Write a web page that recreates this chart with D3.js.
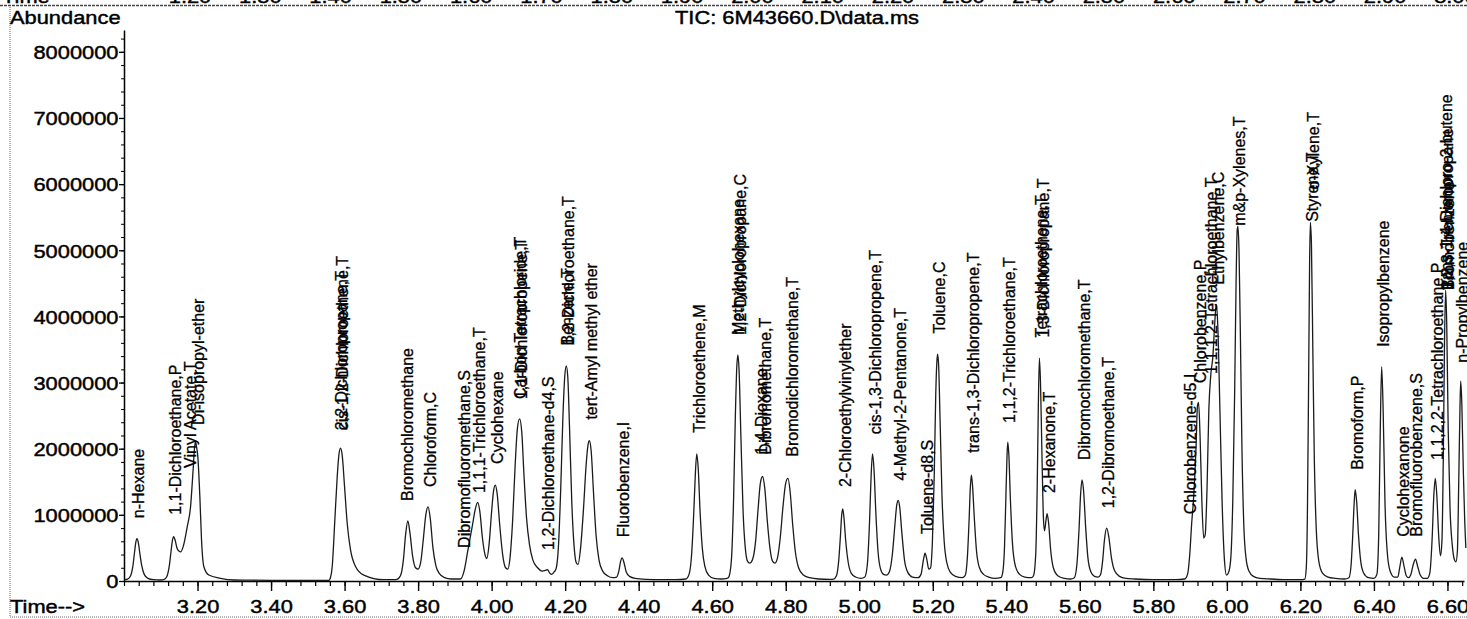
<!DOCTYPE html>
<html>
<head>
<meta charset="utf-8">
<script src="https://cdn.jsdelivr.net/npm/d3@7"></script>
<style>
  body { margin: 0; background: #fff; }
  text { font-family: "Liberation Sans", Arial, Helvetica, sans-serif; fill: #000; }
  .heavy { stroke: #000; stroke-width: 0.45px; }
  .label { stroke: #000; stroke-width: 0.3px; }
</style>
</head>
<body>
<svg id="chart" width="1467" height="619"></svg>
<script>
// ---- Axis ticks -------------------------------------------------------
const xTickValues = [3.2, 3.4, 3.6, 3.8, 4.0, 4.2, 4.4, 4.6, 4.8, 5.0, 5.2, 5.4, 5.6, 5.8, 6.0, 6.2, 6.4, 6.6];
const yTickValues = [0, 1000000, 2000000, 3000000, 4000000, 5000000, 6000000, 7000000, 8000000];
// tail of the previous page's time axis, printed at the very top
const headerTickLabels = ["1.20","1.30","1.40","1.50","1.60","1.70","1.80","1.90","2.00","2.10","2.20","2.30","2.40","2.50","2.60","2.70","2.80","2.90","3.00"];

// ---- Total ion chromatogram: [retention time (min), abundance] ---------
const trace = [
  [3.000,20000],[3.010,30000],[3.018,80000],[3.024,220000],[3.029,450000],[3.032,580000],[3.035,640000],
  [3.039,580000],[3.043,420000],[3.048,240000],[3.055,100000],[3.065,40000],[3.080,20000],[3.100,15000],
  [3.108,20000],[3.116,60000],[3.123,220000],[3.128,450000],[3.132,620000],[3.135,670000],[3.139,620000],
  [3.144,500000],[3.150,450000],[3.154,440000],[3.161,520000],[3.172,820000],[3.181,1120000],[3.188,1680000],
  [3.192,2020000],[3.1946,2110000],[3.197,2040000],[3.2008,1880000],[3.2063,1280000],[3.2109,620000],
  [3.2171,220000],[3.2307,90000],[3.2626,40000],[3.2988,15000],[3.35,12000],[3.40,10000],[3.45,8000],
  [3.50,8000],[3.5572,10000],[3.562,60000],[3.5664,220000],[3.5735,920000],[3.580,1580000],[3.5844,1900000],
  [3.589,2010000],[3.5936,1900000],[3.5999,1430000],[3.6072,870000],[3.6162,470000],[3.6298,220000],
  [3.6524,90000],[3.7068,20000],
  [3.740,20000],[3.752,80000],[3.760,320000],[3.766,700000],[3.772,910000],[3.778,720000],[3.785,380000],
  [3.793,200000],[3.800,180000],[3.807,280000],[3.814,620000],[3.821,1000000],[3.827,1120000],[3.833,950000],
  [3.840,520000],[3.848,240000],[3.858,110000],[3.872,50000],[3.890,30000],[3.905,30000],
  [3.915,30000],[3.925,150000],[3.935,450000],[3.948,850000],[3.955,1070000],[3.962,1190000],[3.968,1050000],
  [3.975,650000],[3.982,400000],[3.987,340000],[3.993,550000],[4.000,1050000],[4.005,1350000],[4.010,1450000],
  [4.015,1320000],[4.022,850000],[4.030,400000],[4.038,200000],[4.044,180000],[4.050,350000],[4.057,900000],
  [4.064,1750000],[4.070,2300000],[4.076,2450000],[4.082,2250000],[4.088,1600000],[4.095,950000],
  [4.103,550000],[4.112,320000],[4.125,200000],[4.138,150000],[4.146,160000],[4.152,170000],[4.158,120000],
  [4.163,100000],[4.169,130000],[4.175,180000],[4.182,550000],[4.188,1400000],[4.194,2500000],[4.199,3100000],
  [4.203,3250000],[4.207,3100000],[4.212,2300000],[4.218,1200000],[4.224,550000],[4.230,280000],[4.235,250000],
  [4.242,500000],[4.250,1100000],[4.257,1750000],[4.262,2050000],[4.266,2120000],[4.271,1950000],
  [4.277,1350000],[4.284,700000],[4.292,320000],[4.302,150000],[4.315,80000],[4.330,50000],[4.340,60000],
  [4.346,150000],[4.351,300000],[4.355,350000],[4.360,280000],[4.366,140000],[4.375,70000],[4.390,40000],
  [4.420,25000],[4.460,20000],[4.500,20000],[4.528,30000],
  [4.537,100000],[4.544,400000],[4.550,1050000],[4.554,1600000],[4.558,1920000],[4.562,1700000],
  [4.567,1050000],[4.573,500000],[4.580,220000],[4.590,90000],[4.605,40000],[4.625,30000],[4.640,40000],
  [4.645,60000],[4.652,300000],[4.658,1200000],[4.663,2500000],[4.667,3250000],[4.670,3420000],[4.673,3200000],
  [4.678,2200000],[4.684,1050000],[4.690,500000],[4.696,300000],[4.702,270000],[4.710,330000],[4.718,600000],
  [4.725,1100000],[4.731,1480000],[4.737,1580000],[4.743,1400000],[4.750,900000],[4.757,500000],[4.764,300000],
  [4.771,270000],[4.778,360000],[4.785,650000],[4.793,1150000],[4.800,1480000],[4.806,1550000],[4.812,1350000],
  [4.819,850000],[4.826,450000],[4.835,200000],[4.848,90000],[4.865,50000],[4.890,30000],[4.920,25000],
  [4.930,30000],[4.938,80000],[4.944,300000],[4.949,700000],[4.952,980000],[4.955,1090000],[4.958,980000],
  [4.963,620000],[4.970,280000],[4.978,120000],[4.990,60000],[5.005,40000],[5.015,60000],[5.022,250000],
  [5.028,900000],[5.032,1550000],[5.036,1920000],[5.040,1700000],[5.045,1050000],[5.051,450000],[5.058,180000],
  [5.066,100000],[5.074,90000],[5.082,140000],[5.090,400000],[5.097,850000],[5.102,1150000],[5.106,1220000],
  [5.110,1120000],[5.116,720000],[5.123,320000],[5.132,130000],[5.145,60000],[5.160,50000],
  [5.168,100000],[5.174,300000],[5.179,420000],[5.184,320000],[5.189,180000],[5.194,200000],[5.199,600000],
  [5.204,1600000],[5.208,2800000],[5.211,3300000],[5.213,3430000],[5.216,3250000],[5.220,2400000],
  [5.225,1300000],[5.231,600000],[5.238,280000],[5.248,130000],[5.262,70000],[5.280,50000],
  [5.288,80000],[5.294,350000],[5.299,950000],[5.302,1400000],[5.305,1600000],[5.308,1450000],[5.313,950000],
  [5.319,450000],[5.327,200000],[5.338,100000],[5.352,60000],[5.370,40000],[5.385,50000],
  [5.390,120000],[5.395,500000],[5.399,1300000],[5.402,1900000],[5.404,2100000],[5.407,1900000],
  [5.411,1250000],[5.417,550000],[5.425,220000],[5.436,100000],[5.450,60000],[5.468,50000],
  [5.474,80000],[5.480,400000],[5.484,1400000],[5.487,2600000],[5.490,3370000],[5.493,3000000],
  [5.497,1900000],[5.501,950000],[5.504,760000],[5.508,920000],[5.511,1020000],[5.515,880000],[5.521,450000],
  [5.528,200000],[5.540,80000],[5.558,40000],[5.575,30000],
  [5.585,50000],[5.592,250000],[5.598,800000],[5.602,1300000],[5.606,1530000],[5.610,1380000],[5.616,800000],
  [5.622,350000],[5.630,140000],[5.640,70000],[5.650,60000],
  [5.656,90000],[5.662,300000],[5.667,620000],[5.673,800000],[5.679,660000],[5.686,350000],[5.695,150000],
  [5.708,70000],[5.725,40000],[5.750,30000],[5.800,20000],[5.860,20000],[5.885,30000],
  [5.893,100000],[5.899,400000],[5.904,850000],[5.910,1300000],[5.916,2000000],[5.920,2650000],[5.923,2700000],
  [5.927,2200000],[5.932,1200000],[5.937,650000],[5.941,700000],[5.946,1400000],[5.951,2600000],
  [5.956,3100000],[5.962,3400000],[5.967,3900000],[5.971,4180000],[5.975,3900000],[5.981,2600000],
  [5.987,1200000],[5.993,350000],[5.999,90000],[6.004,120000],
  [6.010,300000],[6.016,1200000],[6.021,2800000],[6.025,4500000],[6.028,5300000],[6.030,5360000],
  [6.033,5000000],[6.037,3600000],[6.041,2000000],[6.046,850000],[6.052,350000],[6.060,150000],[6.072,70000],
  [6.090,40000],[6.120,30000],[6.160,20000],[6.200,20000],[6.212,30000],
  [6.216,200000],[6.219,1000000],[6.222,2800000],[6.225,4800000],[6.227,5420000],[6.230,5100000],
  [6.234,3400000],[6.238,1800000],[6.243,800000],[6.250,300000],[6.260,120000],[6.275,60000],[6.295,40000],
  [6.320,30000],[6.332,50000],
  [6.338,250000],[6.342,650000],[6.346,1150000],[6.349,1380000],[6.353,1200000],[6.358,700000],[6.364,300000],
  [6.372,120000],[6.385,50000],[6.400,40000],
  [6.408,100000],[6.413,700000],[6.417,2200000],[6.421,3240000],[6.425,2600000],[6.430,1200000],[6.436,450000],
  [6.444,150000],[6.455,60000],[6.465,60000],
  [6.470,200000],[6.476,360000],[6.482,220000],[6.488,80000],[6.494,50000],[6.500,90000],[6.507,250000],
  [6.513,330000],[6.519,220000],[6.526,90000],[6.535,40000],[6.545,40000],
  [6.552,120000],[6.558,600000],[6.563,1300000],[6.567,1550000],[6.571,1300000],[6.576,700000],[6.581,380000],
  [6.585,600000],[6.589,2000000],[6.592,3600000],[6.595,4400000],[6.598,3900000],[6.602,2300000],
  [6.607,1100000],[6.613,550000],[6.619,320000],[6.623,290000],[6.627,450000],[6.631,1600000],[6.634,2600000],
  [6.636,3020000],[6.639,2700000],[6.643,1700000],[6.647,900000],[6.650,500000]
];

// ---- Peak annotations -------------------------------------------------
const compoundNames = [
  "n-Hexane","1,1-Dichloroethane,P","Vinyl Acetate,T","Di-isopropyl-ether",
  "2,2-Dichloropropane,T","cis-1,2-Dichloroethene,T",
  "Bromochloromethane","Chloroform,C","Dibromofluoromethane,S","1,1,1-Trichloroethane,T","Cyclohexane",
  "Carbon Tetrachloride,T","1,1-Dichloropropene,T","1,2-Dichloroethane-d4,S","Benzene,T","1,2-Dichloroethane,T",
  "tert-Amyl methyl ether","Fluorobenzene,I","Trichloroethene,M","Methylcyclohexane","1,2-Dichloropropane,C",
  "1,4-Dioxane","Dibromomethane,T","Bromodichloromethane,T","2-Chloroethylvinylether","cis-1,3-Dichloropropene,T",
  "4-Methyl-2-Pentanone,T","Toluene-d8,S","Toluene,C","trans-1,3-Dichloropropene,T","1,1,2-Trichloroethane,T",
  "Tetrachloroethene,T","1,3-Dichloropropane,T","2-Hexanone,T","Dibromochloromethane,T","1,2-Dibromoethane,T",
  "Chlorobenzene-d5,I","Chlorobenzene,P","1,1,1,2-Tetrachloroethane,T","Ethylbenzene,C","m&p-Xylenes,T",
  "Styrene,T","o-Xylene,T","Bromoform,P","Isopropylbenzene","Cyclohexanone","Bromofluorobenzene,S",
  "1,1,2,2-Tetrachloroethane,P","trans-1,4-Dichloro-2-butene","1,2,3-Trichloropropane","Bromobenzene",
  "n-Propylbenzene"
];
const compoundTimes = [
  3.035, 3.135, 3.176, 3.196,
  3.585, 3.589,
  3.765, 3.827, 3.920, 3.962, 4.010,
  4.072, 4.077, 4.148, 4.200, 4.205,
  4.265, 4.352, 4.559, 4.666, 4.671,
  4.730, 4.739, 4.812, 4.956, 5.038,
  5.108, 5.180, 5.213, 5.305, 5.404,
  5.489, 5.495, 5.513, 5.606, 5.673,
  5.896, 5.922, 5.952, 5.971, 6.030,
  6.227, 6.229, 6.349, 6.421, 6.476, 6.511,
  6.567, 6.592, 6.595, 6.598,
  6.636
];
// abundance level at which each peak label starts
const labelLevels = [
  950000, 1000000, 1710000, 2360000,
  2280000, 2280000,
  1210000, 1420000, 500000, 1330000, 1770000,
  2750000, 2750000, 470000, 3560000, 3560000,
  2440000, 660000, 2240000, 3720000, 3720000,
  1910000, 1910000, 1880000, 1420000, 2220000,
  1520000, 710000, 3740000, 1940000, 2390000,
  3680000, 3680000, 1330000, 1830000, 1100000,
  1010000, 2990000, 3130000, 4480000, 5370000,
  5430000, 5920000, 1680000, 3540000, 670000, 670000,
  1830000, 4400000, 4400000, 4400000,
  3300000
];

// ---- Layout ---------------------------------------------------------
const svg = d3.select("#chart");
const margin = { left: 124, right: 1464, top: 30, bottom: 581 };
const wide = "scale(1.15,1)"; // the printout's horizontal text is wider than the face

const x = d3.scaleLinear().domain([3.0, 6.645]).range([margin.left, margin.right]);
const y = d3.scaleLinear().domain([0, 8330000]).range([margin.bottom, margin.top]);

svg.append("rect").attr("width", 1467).attr("height", 619).attr("fill", "#fff");

// page frame: dotted left and bottom edges, rule under the previous strip
svg.append("line").attr("x1", 10).attr("x2", 10).attr("y1", 5).attr("y2", 617)
  .attr("stroke", "#666").attr("stroke-width", 1).attr("stroke-dasharray", "1,1");
svg.append("line").attr("x1", 10).attr("x2", 1467).attr("y1", 617).attr("y2", 617)
  .attr("stroke", "#666").attr("stroke-width", 1).attr("stroke-dasharray", "1,1");
svg.append("line").attr("x1", 0).attr("x2", 1467).attr("y1", 5.5).attr("y2", 5.5)
  .attr("stroke", "#444").attr("stroke-width", 1.3).attr("stroke-dasharray", "3,1");

// previous strip's time labels, cut off at the top edge
const header = svg.append("g").attr("font-size", 19).attr("class", "heavy");
header.append("text").attr("transform", `translate(2,3) ${wide}`).text("Time");
header.selectAll("text.h").data(headerTickLabels).join("text").attr("class", "h")
  .attr("text-anchor", "middle")
  .attr("transform", (d, i) => `translate(${190 + i * 70.3},3) ${wide}`)
  .text(d => d);

// titles
svg.append("text").attr("class", "heavy").attr("font-size", 19)
  .attr("transform", `translate(10,24) ${wide}`).text("Abundance");
svg.append("text").attr("class", "heavy").attr("font-size", 19).attr("text-anchor", "middle")
  .attr("transform", `translate(797,24) ${wide}`).text("TIC: 6M43660.D\\data.ms");
svg.append("text").attr("class", "heavy").attr("font-size", 19)
  .attr("transform", `translate(10,613) ${wide}`).text("Time-->");

// x axis: minor ticks every 0.04 min, labelled ticks every 0.2 min
const xMinor = d3.range(3.0, 6.645, 0.04);
svg.append("g").attr("transform", `translate(0,${margin.bottom})`)
  .call(d3.axisBottom(x).tickValues(xMinor).tickSize(5).tickFormat(""))
  .call(g => g.select(".domain").remove())
  .selectAll("line").attr("stroke-width", 1.2);
const gx = svg.append("g").attr("transform", `translate(0,${margin.bottom})`)
  .call(d3.axisBottom(x).tickValues(xTickValues).tickFormat(d3.format(".2f")).tickSizeInner(10).tickSizeOuter(0));
gx.select(".domain").attr("stroke-width", 1.5);
gx.selectAll("line").attr("stroke-width", 1.4);
gx.selectAll("text").attr("font-size", 19).attr("font-family", null).attr("class", "heavy")
  .attr("y", 32).attr("dy", 0).attr("transform", wide);

// y axis: minor ticks every 200000
const yMinor = d3.range(0, 8330000, 200000);
svg.append("g").attr("transform", `translate(${margin.left},0)`)
  .call(d3.axisLeft(y).tickValues(yMinor).tickSize(3).tickFormat(""))
  .call(g => g.select(".domain").remove())
  .selectAll("line").attr("stroke-width", 1);
const gy = svg.append("g").attr("transform", `translate(${margin.left},0)`)
  .call(d3.axisLeft(y).tickValues(yTickValues).tickFormat(d3.format("d")).tickSizeInner(5).tickSizeOuter(0));
gy.select(".domain").attr("stroke-width", 1.5);
gy.selectAll("line").attr("stroke-width", 1.3);
gy.selectAll("text").attr("font-size", 19).attr("font-family", null).attr("class", "heavy")
  .attr("x", -4.8).attr("dy", "0.36em").attr("transform", wide);

// chromatogram trace
svg.append("clipPath").attr("id", "plot-clip").append("rect")
  .attr("x", margin.left).attr("y", 0).attr("width", margin.right - margin.left + 3).attr("height", margin.bottom + 1);
const line = d3.line().x(d => x(d[0])).y(d => y(d[1])).curve(d3.curveMonotoneX);
svg.append("path").datum(trace).attr("clip-path", "url(#plot-clip)")
  .attr("d", line).attr("fill", "none").attr("stroke", "#1b1b1b").attr("stroke-width", 1.3)
  .attr("stroke-linejoin", "round");

// peak labels, rotated to read upward from just above each peak
const compounds = compoundNames.map((name, i) => ({ name, rt: compoundTimes[i], level: labelLevels[i] }));
svg.append("g").attr("font-size", 16).attr("class", "label")
  .selectAll("text").data(compounds).join("text")
  .attr("transform", d => `translate(${x(d.rt) + 7.5},${y(d.level)}) rotate(-90)`)
  .text(d => d.name);
</script>
</body>
</html>
